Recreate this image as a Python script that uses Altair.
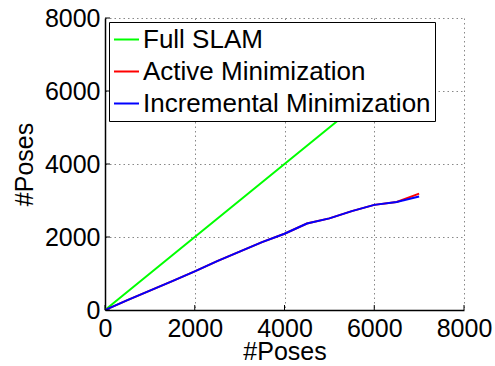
import altair as alt
import pandas as pd

# ---- data ----
x_poses = [0, 500, 1000, 1500, 2000, 2500, 3000, 3500, 4000, 4500, 5000, 5500, 6000, 6500, 7000]
full_slam = [0, 500, 1000, 1500, 2000, 2500, 3000, 3500, 4000, 4500, 5000, 5500, 6000, 6500, 7000]
active_min = [0, 270, 530, 790, 1060, 1340, 1600, 1860, 2090, 2370, 2510, 2710, 2880, 2960, 3190]
incremental_min = [0, 270, 530, 790, 1060, 1340, 1600, 1860, 2090, 2370, 2510, 2710, 2880, 2960, 3110]

series_names = ["Full SLAM", "Active Minimization", "Incremental Minimization"]
series_colors = ["#00ff00", "#ff0000", "#0000ff"]
tick_values = [0, 2000, 4000, 6000, 8000]

rows = []
for name, vals in zip(series_names, [full_slam, active_min, incremental_min]):
    for xv, yv in zip(x_poses, vals):
        rows.append({"x": xv, "y": yv, "series": name})
df = pd.DataFrame(rows)
ticks_df = pd.DataFrame({"t": tick_values})

FONT = "Liberation Sans"
FS = 25

xscale = alt.Scale(domain=[0, 8000], nice=False, zero=False)
yscale = alt.Scale(domain=[0, 8000], nice=False, zero=False)

color = alt.Color(
    "series:N",
    scale=alt.Scale(domain=series_names, range=series_colors),
    sort=series_names,
    legend=alt.Legend(
        title=None,
        orient="none",
        legendX=4,
        legendY=4,
        symbolType="stroke",
        symbolSize=625,
        symbolStrokeWidth=2,
        labelFontSize=26,
        labelFont=FONT,
        labelColor="black",
        labelLimit=0,
        labelOffset=3,
        padding=4,
        rowPadding=5,
        strokeColor="black",
        fillColor="white",
    ),
)

x_enc = alt.X(
    "x:Q",
    scale=xscale,
    axis=alt.Axis(
        title="#Poses",
        values=tick_values,
        format="d",
        grid=True,
        gridDash=[1.5, 3],
        gridColor="#888888",
        gridWidth=1,
        domainColor="black",
        domainWidth=1.5,
        tickSize=0,
        labelPadding=6,
        labelFlush=False,
        labelFontSize=FS,
        labelFont=FONT,
        labelColor="black",
        titleFontSize=FS,
        titleFont=FONT,
        titleFontWeight="normal",
        titleColor="black",
        titlePadding=-2,
    ),
)
y_enc = alt.Y(
    "y:Q",
    scale=yscale,
    axis=alt.Axis(
        title="#Poses",
        values=tick_values,
        format="d",
        grid=True,
        gridDash=[1.5, 3],
        gridColor="#888888",
        gridWidth=1,
        domainColor="black",
        domainWidth=1.5,
        tickSize=0,
        labelPadding=5,
        labelFlush=False,
        labelFontSize=FS,
        labelFont=FONT,
        labelColor="black",
        titleFontSize=FS,
        titleFont=FONT,
        titleFontWeight="normal",
        titleColor="black",
        titlePadding=7,
    ),
)

layers = []
for name in series_names:
    layers.append(
        alt.Chart(df)
        .transform_filter(alt.datum.series == name)
        .mark_line(strokeWidth=2, clip=True)
        .encode(x=x_enc, y=y_enc, color=color)
    )

xticks = alt.Chart(ticks_df).mark_rule(color="black", strokeWidth=1).encode(
    x=alt.X("t:Q", scale=xscale), y=alt.value(292), y2=alt.value(287)
)
yticks = alt.Chart(ticks_df).mark_rule(color="black", strokeWidth=1).encode(
    y=alt.Y("t:Q", scale=yscale), x=alt.value(0), x2=alt.value(5)
)

chart = (
    alt.layer(*layers, xticks, yticks)
    .properties(
        width=359,
        height=292,
        autosize=alt.AutoSizeParams(type="none"),
        padding={"left": 105, "top": 18, "right": 31, "bottom": 56},
        background="white",
    )
    .configure_view(stroke=None)
)

chart.save("out.html", embed_options={"renderer": "svg", "actions": False})
